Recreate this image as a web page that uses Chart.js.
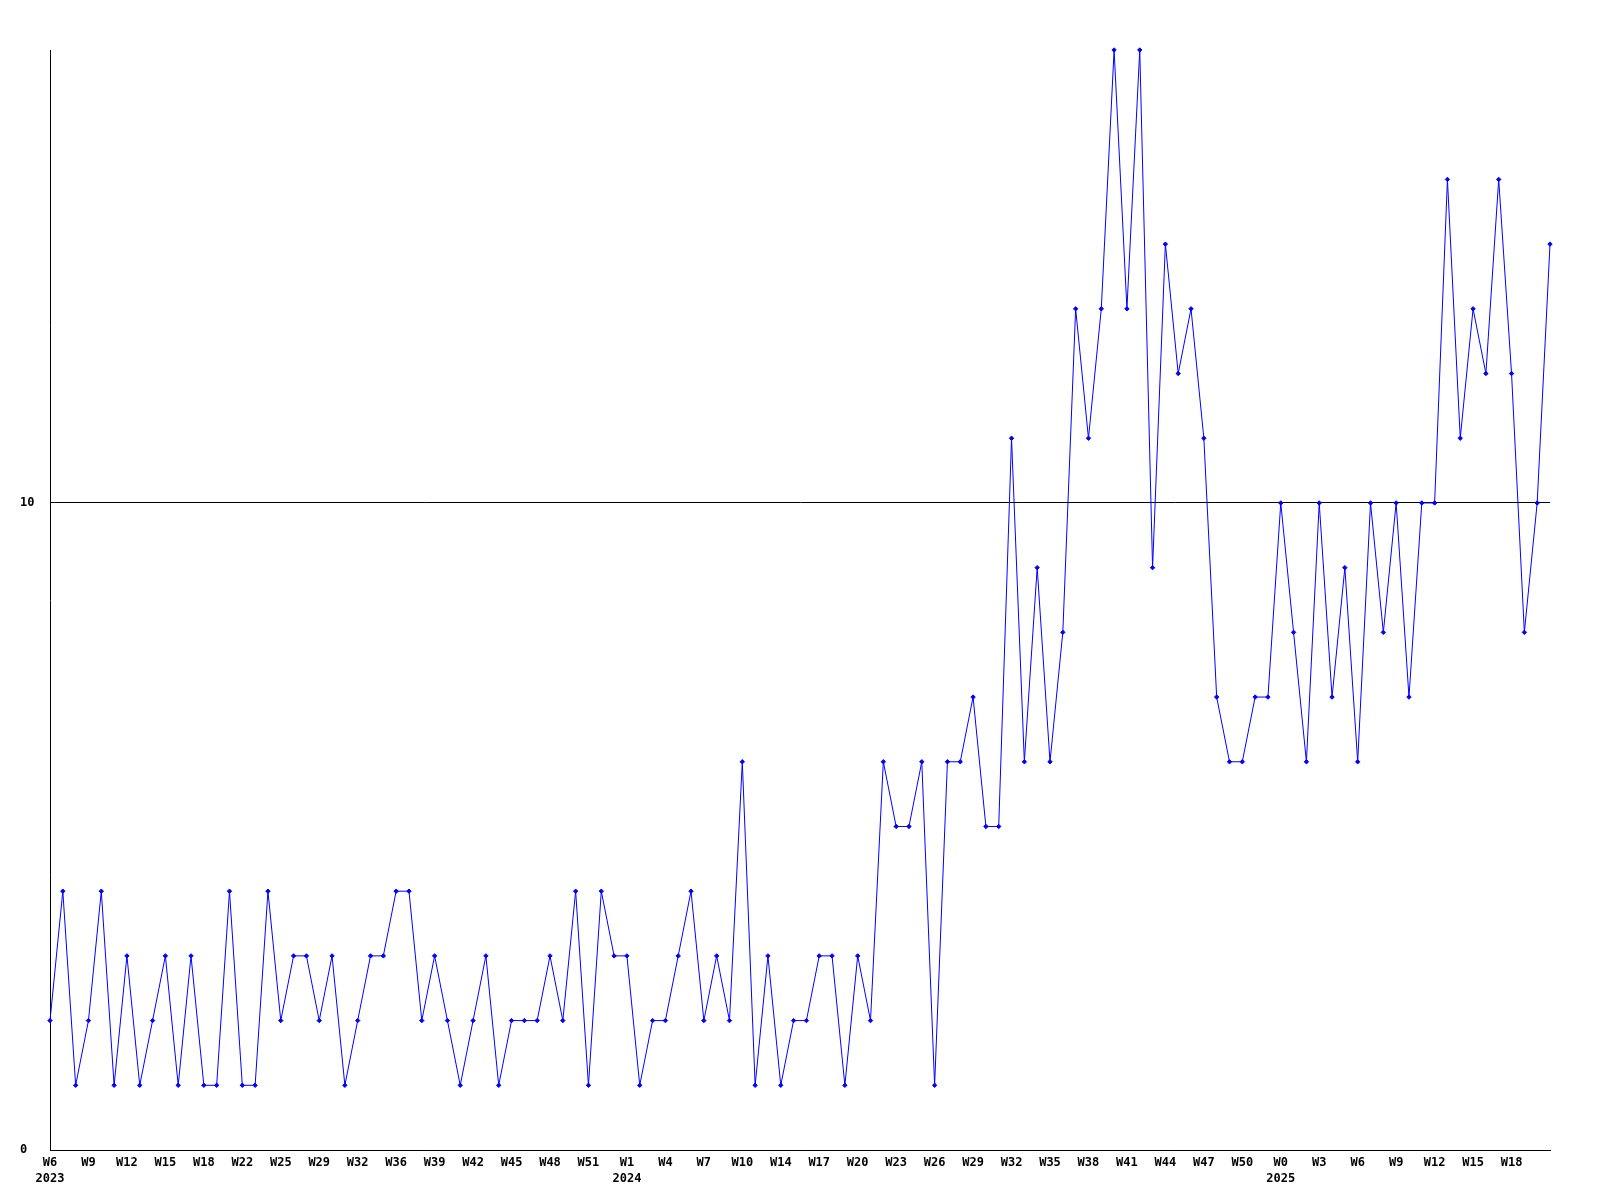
<!DOCTYPE html>
<html lang="en">
<head>
<meta charset="UTF-8">
<title>Weekly count</title>
<script src="https://cdn.jsdelivr.net/npm/chart.js"></script>
<style>
  body, html { margin: 0; padding: 0; background: #fff; }
  .chart-box { width: 1600px; height: 1200px; }
</style>
</head>
<body>
<div class="chart-box"><canvas id="weekChart"></canvas></div>
<script>
  // one label every 3rd point
  const weekTicks = ['W6','W9','W12','W15','W18','W22','W25','W29','W32','W36','W39','W42','W45','W48','W51',
                     'W1','W4','W7','W10','W14','W17','W20','W23','W26','W29','W32','W35','W38','W41','W44','W47','W50',
                     'W0','W3','W6','W9','W12','W15','W18'];
  const yearTickIndex = [0, 15, 32];
  const years = ['2023', '2024', '2025'];

  const counts = [2,4,1,2,4,1,3,1,2,3,1,3,1,1,4,1,1,4,
                  2,3,3,2,3,1,2,3,3,4,4,2,3,2,1,2,3,1,2,2,
                  2,3,2,4,1,4,3,3,1,2,2,3,4,2,3,2,6,1,
                  3,1,2,2,3,3,1,3,2,6,5,5,6,1,6,6,7,5,5,
                  11,6,9,6,8,13,11,13,17,13,17,9,14,12,13,11,7,6,6,
                  7,7,10,8,6,10,7,9,6,10,8,10,7,10,10,15,11,13,12,15,12,8,10,14];

  const yTicks = [0, 10];
  const yMax = 17;

  // build category labels from the tick list
  var labels = [];
  for (var i = 0; i < counts.length; i++) {
    if (i % 3 === 0 && weekTicks[i / 3] !== undefined) {
      var t = i / 3;
      var y = yearTickIndex.indexOf(t);
      labels.push(y >= 0 ? [weekTicks[t], years[y]] : weekTicks[t]);
    } else {
      labels.push('');
    }
  }

  Chart.defaults.font.family = "'DejaVu Sans Mono', monospace";
  Chart.defaults.font.size = 12;
  Chart.defaults.font.weight = 'bold';
  Chart.defaults.color = '#000';

  var ctx = document.getElementById('weekChart').getContext('2d');
  var weekChart = new Chart(ctx, {
    type: 'line',
    data: {
      labels: labels,
      datasets: [{
        data: counts,
        borderColor: '#0000ff',
        backgroundColor: '#0000ff',
        borderWidth: 1,
        tension: 0,
        pointStyle: 'rectRot',
        pointRadius: 2.2,
        pointBorderWidth: 1,
        clip: false
      }]
    },
    options: {
      responsive: true,
      maintainAspectRatio: false,
      animation: false,
      devicePixelRatio: 1,
      layout: { padding: { left: 20, right: 50, top: 50, bottom: 0 } },
      plugins: { legend: { display: false }, tooltip: { enabled: false } },
      scales: {
        x: {
          offset: false,
          grid: { display: false, drawTicks: false },
          border: { display: true, color: '#000', width: 1 },
          ticks: {
            autoSkip: false,
            maxRotation: 0,
            padding: 5,
            font: { lineHeight: 1.3 }
          },
          afterFit: function(scale) { scale.height = 50; }
        },
        y: {
          min: 0,
          max: yMax,
          grid: { color: '#000', lineWidth: 1, drawTicks: false },
          border: { display: true, color: '#000', width: 1 },
          ticks: { crossAlign: 'far', padding: 0 },
          afterBuildTicks: function(scale) {
            scale.ticks = yTicks.map(function(v) { return { value: v }; });
          },
          afterFit: function(scale) { scale.width = 30; }
        }
      }
    }
  });
</script>
</body>
</html>
